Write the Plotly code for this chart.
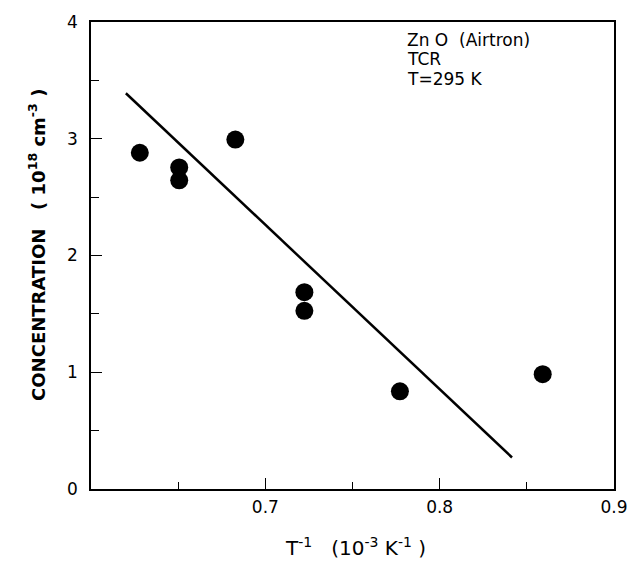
import plotly.graph_objects as go

# Measured carrier concentration vs inverse temperature
inv_t = [0.628, 0.6506, 0.6506, 0.6828, 0.7224, 0.7224, 0.7772, 0.8591]
conc = [2.88, 2.754, 2.644, 2.993, 1.686, 1.526, 0.837, 0.983]

# Straight-line trend through the data
fit_x = [0.620, 0.8415]
fit_y = [3.39, 0.27]

x_ticks = [0.7, 0.8, 0.9]
x_labels = ["0.7", "0.8", "0.9"]
x_minor = [0.65, 0.75, 0.85]
y_ticks = [0, 1, 2, 3, 4]
y_labels = ["0", "1", "2", "3", "4"]
y_minor = [0.5, 1.5, 2.5, 3.5]

info_lines = ["Zn O  (Airtron)", "TCR", "T=295 K"]

FONT = "DejaVu Sans, Liberation Sans, sans-serif"

fig = go.Figure()
fig.add_trace(go.Scatter(x=fit_x, y=fit_y, mode="lines",
                         line=dict(color="black", width=2.5),
                         showlegend=False, hoverinfo="skip"))
fig.add_trace(go.Scatter(x=inv_t, y=conc, mode="markers",
                         marker=dict(color="black", size=18),
                         showlegend=False))

axis_common = dict(
    showgrid=False, zeroline=False, showline=True, linecolor="black",
    linewidth=1.5, mirror=True, ticks="inside", tickcolor="black",
    tickwidth=1.2, ticklen=11,
    tickfont=dict(family=FONT, size=17, color="black"),
)

fig.update_xaxes(range=[0.6, 0.9], tickvals=x_ticks, ticktext=x_labels,
                 minor=dict(tickvals=x_minor, ticks="inside", ticklen=7,
                            tickwidth=1.2, tickcolor="black"),
                 ticklabelstandoff=2, **axis_common)
fig.update_yaxes(range=[0, 4], tickvals=y_ticks, ticktext=y_labels,
                 minor=dict(tickvals=y_minor, ticks="inside", ticklen=8,
                            tickwidth=1.2, tickcolor="black"),
                 ticklabelstandoff=8, **axis_common)

annotations = [
    dict(text="CONCENTRATION   ( 10<sup>18</sup> cm<sup>-3</sup> )",
         xref="paper", yref="paper", x=-0.103, y=0.523, textangle=-90,
         showarrow=False, xanchor="center", yanchor="middle",
         font=dict(family=FONT, size=18, color="black", weight="bold")),
    dict(text="T<sup>-1</sup>   (10<sup>-3</sup> K<sup>-1</sup> )",
         xref="paper", yref="paper", x=0.505, y=-0.124,
         showarrow=False, xanchor="center", yanchor="middle",
         font=dict(family=FONT, size=20, color="black")),
]
for text, ypos in zip(info_lines, [0.962, 0.920, 0.878]):
    annotations.append(dict(text=text, xref="paper", yref="paper",
                            x=0.5995, y=ypos, xanchor="left",
                            yanchor="middle", showarrow=False,
                            font=dict(family=FONT, size=17, color="black")))

fig.update_layout(
    width=640, height=567,
    margin=dict(l=91, r=20, t=15, b=78),
    paper_bgcolor="white", plot_bgcolor="white",
    annotations=annotations,
)

fig.write_html("out.html")
